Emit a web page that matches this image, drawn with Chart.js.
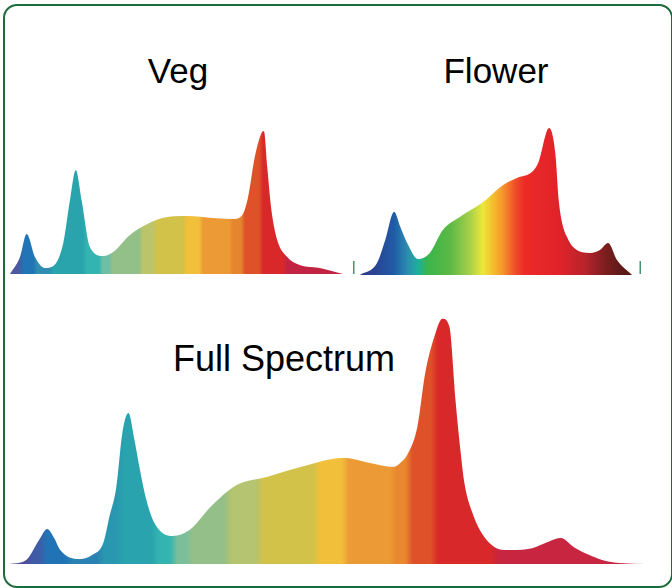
<!DOCTYPE html>
<html>
<head>
<meta charset="utf-8">
<script src="https://cdn.jsdelivr.net/npm/chart.js@4.4.1/dist/chart.umd.min.js"></script>
<style>
  html, body { margin: 0; padding: 0; background: #fff; }
  body { width: 672px; height: 588px; position: relative; overflow: hidden; font-family: "Liberation Sans", Arial, sans-serif; }
  .frame { position: absolute; left: 3px; top: 4px; width: 670px; height: 584px; box-sizing: border-box;
           border: 2px solid #1b6b3b; border-radius: 14px; }
  .title { position: absolute; color: #000; line-height: 1; white-space: nowrap; transform: translateX(-50%); }
  canvas { position: absolute; }
</style>
</head>
<body>
<div class="frame"></div>
<div class="title" style="left:178px; top:53px; font-size:35px">Veg</div>
<div class="title" style="left:496px; top:53px; font-size:35px">Flower</div>
<div class="title" style="left:284px; top:341px; font-size:36px">Full Spectrum</div>

<canvas id="veg" width="333" height="150" style="left:10px; top:124px"></canvas>
<canvas id="flower" width="288" height="155" style="left:353px; top:120px"></canvas>
<canvas id="full" width="636" height="255" style="left:9px; top:309px"></canvas>

<script>
// spectra: wavelength (nm) and relative intensity (%)
const vegNm = [380, 392, 400, 410, 422, 432, 444, 452, 459, 466, 476, 492, 504, 524, 545, 569, 593, 624, 648, 659, 666, 674, 682, 685, 689, 694, 701, 713, 728, 752, 780]
const vegVal = [0, 11.9, 28, 11.9, 4.2, 5.6, 21.7, 51.7, 72.7, 51.7, 18.9, 12.6, 15.4, 27.3, 35, 39.9, 40.6, 39.2, 38.5, 41.3, 53.8, 81.8, 98.5, 100, 74.8, 44.8, 23.8, 11.9, 6.3, 4.2, 0]

const flowerNm = [380, 405, 417, 430, 439, 449, 465, 482, 501, 526, 560, 589, 609, 631, 640, 656, 665, 670, 675, 682, 691, 716, 730, 742, 755, 777]
const flowerVal = [0, 8.2, 23.8, 42.9, 32.7, 21.8, 10.9, 15, 30.6, 39.5, 49.7, 61.2, 66, 70.1, 76.2, 100, 83, 51, 35.4, 25.9, 19, 15, 17, 21.8, 10.2, 0]

const fullNm = [380, 390.7, 398.9, 404, 408.4, 412.2, 424.2, 432.4, 439.3, 443.1, 447.5, 451.3, 455.1, 458.9, 462, 466.4, 471.5, 482.2, 493.6, 506.8, 523.2, 542.1, 563.6, 590.7, 607.1, 621.6, 626.1, 631.1, 636.8, 641.8, 647.5, 652.6, 657, 660.8, 663.9, 666.4, 671.5, 677.2, 685.4, 693.6, 709.3, 717.5, 727, 735.2, 742.1, 758.5, 780]
const fullVal = [0, 1.6, 9.8, 14.3, 10.6, 5.7, 2.0, 3.7, 8.6, 19.2, 31.4, 53.5, 61.6, 50.6, 39.6, 26.1, 16.7, 11.4, 13.9, 23.3, 32.2, 35.5, 39.6, 43.3, 41.2, 39.6, 41.2, 45.3, 55.9, 78, 92.7, 100, 96.7, 66.9, 46.5, 33.1, 20.8, 12.7, 6.9, 5.7, 6.5, 8.6, 10.6, 6.9, 4.5, 0.8, 0]

// fill colours: [start fraction across the plot, colour]
const vegColors = [[0, '#4b5aa0'], [0.039, '#2174b5'], [0.081, '#2e8db0'], [0.129, '#29a4ad'], [0.231, '#33b4b0'],
  [0.279, '#6fbfa4'], [0.309, '#93bf88'], [0.399, '#bcc46a'], [0.441, '#d3c24a'], [0.532, '#f2bf3a'],
  [0.58, '#ec9a35'], [0.67, '#e5862f'], [0.706, '#df5129'], [0.76, '#d8282a'], [0.832, '#c22342']]
const fullColors = [[0, '#4e4f9c'], [0.04, '#3e5da6'], [0.06, '#2273b5'], [0.10, '#2a82b2'], [0.15, '#2a97b0'],
  [0.18, '#29a3ad'], [0.235, '#33b4b0'], [0.265, '#7bbf9a'], [0.29, '#95bf88'], [0.35, '#b4c470'],
  [0.40, '#d3c24a'], [0.49, '#f2bf3a'], [0.535, '#ec9a35'], [0.61, '#e9882f'], [0.635, '#df5229'],
  [0.675, '#d8282a'], [0.77, '#c72540'], [0.97, '#c42447'], [0.99, '#e8a0b0']]
const flowerColors = [[0, '#2c3a8e'], [0.076, '#2b4393'], [0.142, '#1f5ca7'], [0.191, '#2d8fb0'], [0.226, '#1fb09a'],
  [0.26, '#3bb54a'], [0.337, '#5cb946'], [0.406, '#a6d04a'], [0.451, '#ede83a'], [0.483, '#f4c12f'],
  [0.517, '#f79a2c'], [0.563, '#ef4f29'], [0.597, '#ec2a27'], [0.719, '#e0232a'], [0.806, '#b8232c'],
  [0.875, '#7d1e1f'], [0.944, '#5a1918'], [1, '#5a1918']]

// petal-like bands: flat colour with a short blend into the next band
function bandGradient(ctx, area, stops) {
  const g = ctx.createLinearGradient(area.left, 0, area.right, 0)
  stops.forEach((s, i) => {
    const end = i + 1 < stops.length ? stops[i + 1][0] - 0.012 : 1
    g.addColorStop(s[0], s[1])
    g.addColorStop(Math.max(s[0], end), s[1])
  })
  return g
}

function softGradient(ctx, area, stops) {
  const g = ctx.createLinearGradient(area.left, 0, area.right, 0)
  stops.forEach(s => g.addColorStop(s[0], s[1]))
  return g
}

const edgeTicks = {
  id: 'edgeTicks',
  afterDraw(chart) {
    const { ctx, chartArea: a } = chart
    ctx.save()
    ctx.strokeStyle = '#1b7a45'
    ctx.lineWidth = 1.2
    ctx.beginPath()
    ctx.moveTo(a.left + 0.8, a.bottom - 14); ctx.lineTo(a.left + 0.8, a.bottom - 1)
    ctx.moveTo(a.right - 0.8, a.bottom - 14); ctx.lineTo(a.right - 0.8, a.bottom - 1)
    ctx.stroke()
    ctx.restore()
  }
}

function spectrum(id, xs, ys, xMin, xMax, yMax, fill, plugins) {
  const points = xs.map((x, i) => ({ x: x, y: ys[i] }))
  return new Chart(document.getElementById(id), {
    type: 'line',
    data: {
      datasets: [{
        data: points,
        fill: 'origin',
        borderWidth: 0,
        pointRadius: 0,
        cubicInterpolationMode: 'monotone',
        backgroundColor: (c) => {
          const area = c.chart.chartArea
          if (!area) return 'transparent'
          return fill(c.chart.ctx, area)
        }
      }]
    },
    options: {
      responsive: false,
      animation: false,
      devicePixelRatio: 2,
      layout: { padding: 0 },
      scales: {
        x: { type: 'linear', min: xMin, max: xMax, display: false },
        y: { min: 0, max: yMax, display: false }
      },
      plugins: { legend: { display: false }, tooltip: { enabled: false } }
    },
    plugins: plugins || []
  })
}

spectrum('veg', vegNm, vegVal, 380, 780, 105, (ctx, a) => bandGradient(ctx, a, vegColors))
spectrum('flower', flowerNm, flowerVal, 370, 790, 105.4, (ctx, a) => softGradient(ctx, a, flowerColors), [edgeTicks])
spectrum('full', fullNm, fullVal, 380, 780, 104, (ctx, a) => bandGradient(ctx, a, fullColors))
</script>
</body>
</html>
